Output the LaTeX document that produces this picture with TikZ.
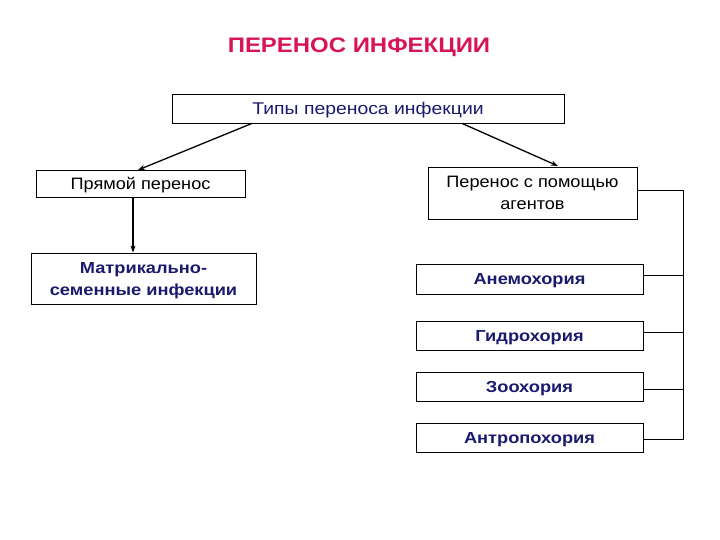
\documentclass[tikz,border=0pt]{standalone}
\usepackage{fontspec}
\setmainfont{Liberation Sans}
\newfontfamily\wideA[FakeStretch=1.14]{Liberation Sans}
\newfontfamily\wideB[FakeStretch=1.10]{Liberation Sans}
\usetikzlibrary{arrows.meta}
\definecolor{titlered}{HTML}{D81459}
\definecolor{navy}{HTML}{1A1A6E}
\tikzset{
  box/.style={draw=black, line width=0.8pt, inner sep=0pt, align=center, text depth=0pt},
  plain/.style={box, font=\wideB\fontsize{16.5}{22}\selectfont},
  strong/.style={box, text=navy, font=\wideA\fontsize{16}{22}\selectfont\bfseries},
  arr/.style={-{Stealth[length=7pt,width=5pt]}, line width=1.3pt},
  link/.style={line width=0.8pt}
}
\begin{document}
\begin{tikzpicture}[x=1pt,y=-1pt]
\useasboundingbox[fill=white] (0,0) rectangle (720,540);
\node[text=titlered, font=\wideA\fontsize{21}{24}\selectfont\bfseries] (title) at (359,47) {ПЕРЕНОС ИНФЕКЦИИ};
\node[box, text=navy, font=\wideA\fontsize{17}{20}\selectfont, minimum width=392pt, minimum height=29pt] (types) at (368,108.5) {Типы переноса инфекции};
\node[plain, minimum width=209pt, minimum height=27pt] (direct) at (140.5,183.5) {Прямой перенос};
\node[plain, minimum width=209pt, minimum height=52pt] (agents) at (532.5,193) {Перенос с помощью\\агентов};
\node[strong, minimum width=225pt, minimum height=51pt] (matr) at (143.5,278.5) {Матрикально-\\семенные инфекции};
\node[strong, minimum width=227pt, minimum height=30pt] (anemo) at (529.5,279) {Анемохория};
\node[strong, minimum width=227pt, minimum height=29pt] (hydro) at (529.5,336) {Гидрохория};
\node[strong, minimum width=227pt, minimum height=29pt] (zoo) at (529.5,386.5) {Зоохория};
\node[strong, minimum width=227pt, minimum height=29pt] (anthro) at (529.5,438) {Антропохория};
\coordinate (s1) at (252,123);
\coordinate (s2) at (462,123);
\draw[arr] (types.south -| s1) -- (138,170);
\draw[arr] (types.south -| s2) -- (558,166);
\draw[arr] (direct.south -| 133,0) -- (matr.north -| 133,0);
\coordinate (rail) at (683,0);
\draw[link] (agents.east |- 0,190) -- (rail |- 0,190) -- (rail |- 0,439) -- (anthro.east |- 0,439);
\draw[link] (anemo.east |- 0,275) -- (rail |- 0,275);
\draw[link] (hydro.east |- 0,332) -- (rail |- 0,332);
\draw[link] (zoo.east |- 0,389) -- (rail |- 0,389);
\end{tikzpicture}
\end{document}
